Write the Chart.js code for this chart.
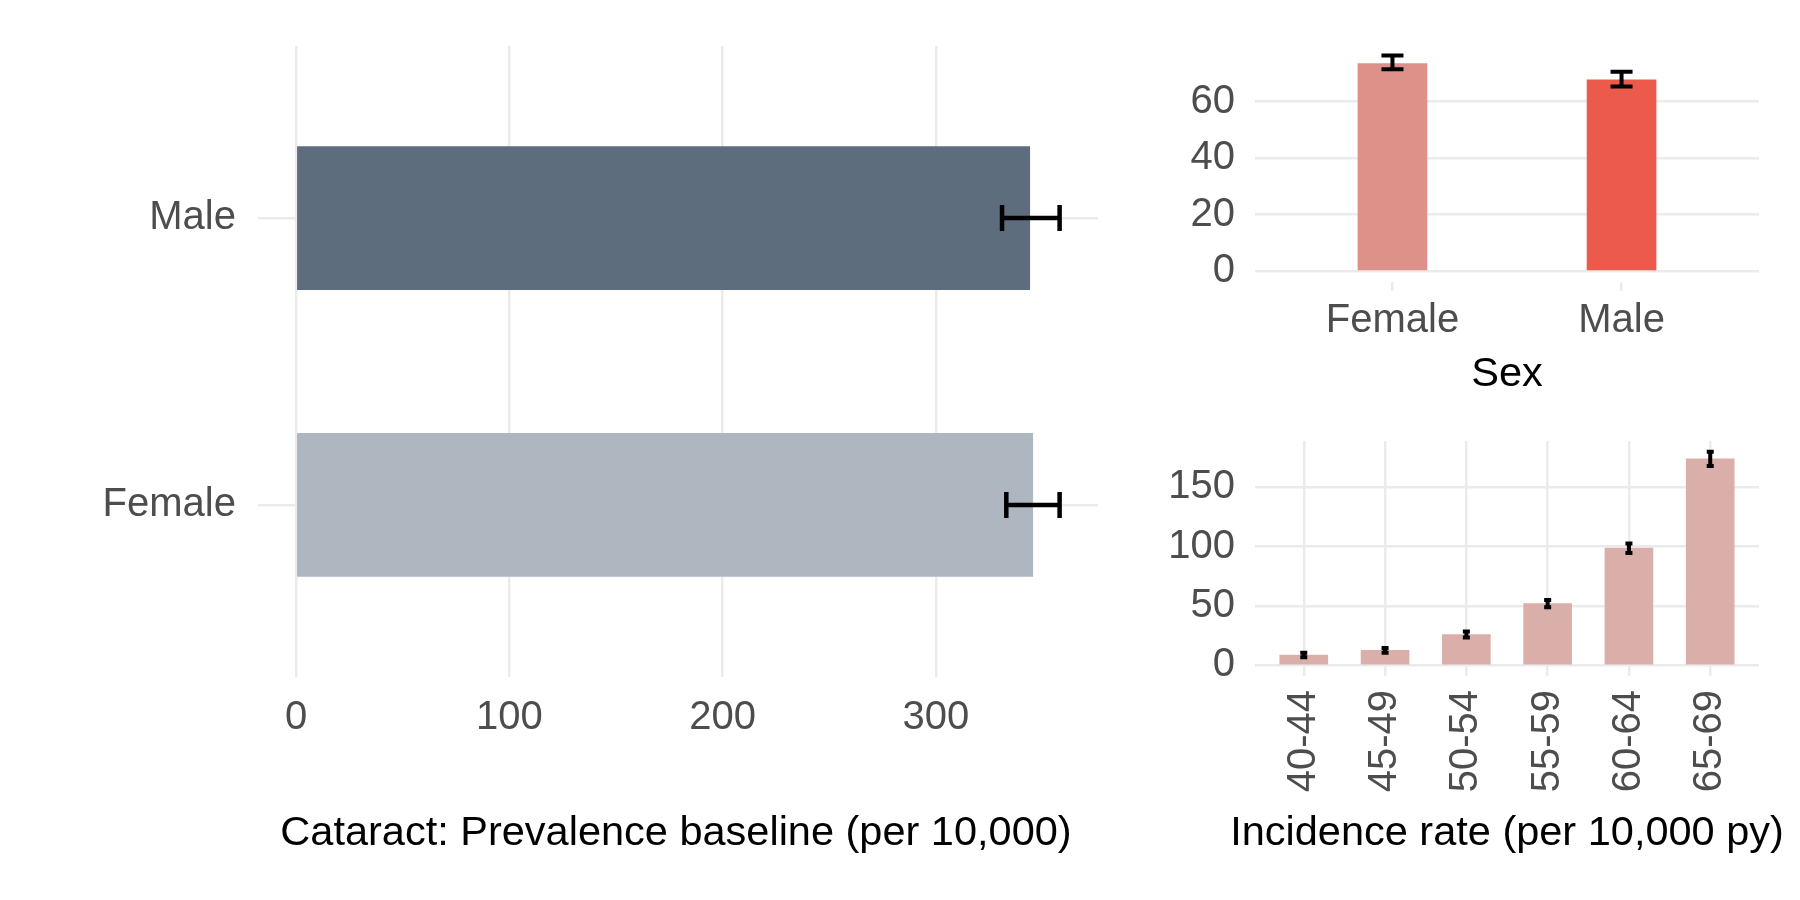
<!DOCTYPE html>
<html><head><meta charset="utf-8">
<script src="https://cdn.jsdelivr.net/npm/chart.js@4"></script>
<style>
body{margin:0;background:#fff;width:1800px;height:900px;overflow:hidden;position:relative;font-family:"Liberation Sans",Arial,sans-serif}
canvas{position:absolute;left:0;top:0}
.t{position:absolute;font-size:41.5px;color:#000;white-space:nowrap;transform:translate(-50%,-50%)}
</style></head><body>
<canvas id="c1" width="1800" height="900"></canvas>
<canvas id="c2" width="1800" height="900"></canvas>
<canvas id="c3" width="1800" height="900"></canvas>
<div class="t" style="left:676px;top:831px">Cataract: Prevalence baseline (per 10,000)</div>
<div class="t" style="left:1507px;top:372px">Sex</div>
<div class="t" style="left:1507px;top:831px">Incidence rate (per 10,000 py)</div>
<script>
const sexCats = ['Male','Female'];
const prevValues = [344, 345.4];
const prevLow = [331, 333];
const prevHigh = [358, 358];
const prevColors = ['#5D6D7E','#AEB6BF'];
const prevTicks = [0,100,200,300];

const incSexCats = ['Female','Male'];
const incSexValues = [73.4, 67.7];
const incSexLow = [71.4, 65.3];
const incSexHigh = [76.3, 70.5];
const incSexColors = ['#DD9189','#EB5A4A'];
const incSexTicks = [0,20,40,60];

const ageCats = ['40-44','45-49','50-54','55-59','60-64','65-69'];
const ageValues = [8.7, 12.6, 26, 52, 98.7, 174];
const ageLow = [6.8, 10.6, 23.5, 49, 94.7, 168];
const ageHigh = [10.6, 14.6, 28.5, 55, 102.7, 180];
const ageTicks = [0,50,100,150];

Chart.defaults.font.family = '"Liberation Sans", Arial, sans-serif';
Chart.defaults.font.size = 40;
Chart.defaults.color = '#4D4D4D';
const GRID = '#EBEBEB';

function errPlugin(low, high, horiz, cap, lw){
  return {id:'err', afterDatasetsDraw(chart){
    const ctx = chart.ctx, xs = chart.scales.x, ys = chart.scales.y;
    ctx.save(); ctx.strokeStyle='#000'; ctx.lineWidth=lw;
    low.forEach((l,i)=>{
      const h = high[i];
      ctx.beginPath();
      if(horiz){
        const y = ys.getPixelForValue(i), a = xs.getPixelForValue(l), b = xs.getPixelForValue(h);
        ctx.moveTo(a,y);ctx.lineTo(b,y);
        ctx.moveTo(a,y-cap);ctx.lineTo(a,y+cap);
        ctx.moveTo(b,y-cap);ctx.lineTo(b,y+cap);
      } else {
        const x = xs.getPixelForValue(i), a = ys.getPixelForValue(l), b = ys.getPixelForValue(h);
        ctx.moveTo(x,a);ctx.lineTo(x,b);
        ctx.moveTo(x-cap,a);ctx.lineTo(x+cap,a);
        ctx.moveTo(x-cap,b);ctx.lineTo(x+cap,b);
      }
      ctx.stroke();
    });
    ctx.restore();
  }};
}
function fit(size, horiz){ return function(s){ if(horiz) s.height=size; else s.width=size; s.paddingLeft=0;s.paddingRight=0;s.paddingTop=0;s.paddingBottom=0; }; }
function setTicks(vals){ return function(s){ s.ticks = vals.map(v=>({value:v})); }; }

// Chart 1: plot area 258..1098 x, 46..677 y
new Chart(document.getElementById('c1'), {
  type:'bar',
  data:{datasets:[{data: prevValues.map((v,i)=>({x:v,y:i})), backgroundColor: prevColors, barThickness:143}]},
  options:{indexAxis:'y', responsive:false, devicePixelRatio:1, animation:false,
    plugins:{legend:{display:false},tooltip:{enabled:false}},
    layout:{padding:{left:0,right:702,top:46,bottom:123}},
    scales:{
      x:{type:'linear',min:-17.9,max:376,afterBuildTicks:setTicks(prevTicks),afterFit:fit(100,true),
         border:{display:false},grid:{color:GRID,lineWidth:2.5,drawTicks:false},ticks:{padding:17}},
      y:{type:'linear',min:-0.6,max:1.6,reverse:true,offset:false,afterBuildTicks:setTicks([0,1]),afterFit:fit(258,false),
         border:{display:false},grid:{color:GRID,lineWidth:2.5,drawTicks:false,offset:false},
         ticks:{padding:22,callback:v=>sexCats[v]}}
    }},
  plugins:[errPlugin(prevLow,prevHigh,true,13,4.5)]
});

// Chart 2: plot area 1255..1759 x, 45..282 y
new Chart(document.getElementById('c2'), {
  type:'bar',
  data:{datasets:[{data: incSexValues.map((v,i)=>({x:i,y:v})), backgroundColor: incSexColors, barThickness:69}]},
  options:{responsive:false, devicePixelRatio:1, animation:false,
    plugins:{legend:{display:false},tooltip:{enabled:false}},
    layout:{padding:{left:0,right:41,top:45,bottom:518}},
    scales:{
      x:{type:'linear',min:-0.6,max:1.6,offset:false,afterBuildTicks:setTicks([0,1]),afterFit:fit(100,true),
         border:{display:false},grid:{color:GRID,lineWidth:2.5,drawOnChartArea:false,tickLength:9,offset:false},
         ticks:{padding:6,callback:v=>incSexCats[v]}},
      y:{type:'linear',min:-3.8,max:80,afterBuildTicks:setTicks(incSexTicks),afterFit:fit(1255,false),
         border:{display:false},grid:{color:GRID,lineWidth:2.5,drawTicks:false},ticks:{padding:20}}
    }},
  plugins:[errPlugin(incSexLow,incSexHigh,false,11,4)]
});

// Chart 3: plot area 1255..1759 x, 441..676 y
new Chart(document.getElementById('c3'), {
  type:'bar',
  data:{datasets:[{data: ageValues.map((v,i)=>({x:i,y:v})), backgroundColor:'#DBAFA9', barThickness:48}]},
  options:{responsive:false, devicePixelRatio:1, animation:false,
    plugins:{legend:{display:false},tooltip:{enabled:false}},
    layout:{padding:{left:0,right:41,top:441,bottom:94}},
    scales:{
      x:{type:'linear',min:-0.6,max:5.6,offset:false,afterBuildTicks:setTicks([0,1,2,3,4,5]),afterFit:fit(130,true),
         border:{display:false},grid:{color:GRID,lineWidth:2.5,drawTicks:false,offset:false},
         ticks:{padding:14,minRotation:90,maxRotation:90,callback:v=>ageCats[v]}},
      y:{type:'linear',min:-9,max:189,afterBuildTicks:setTicks(ageTicks),afterFit:fit(1255,false),
         border:{display:false},grid:{color:GRID,lineWidth:2.5,drawTicks:false},ticks:{padding:20}}
    }},
  plugins:[errPlugin(ageLow,ageHigh,false,3.5,4)]
});
</script></body></html>
